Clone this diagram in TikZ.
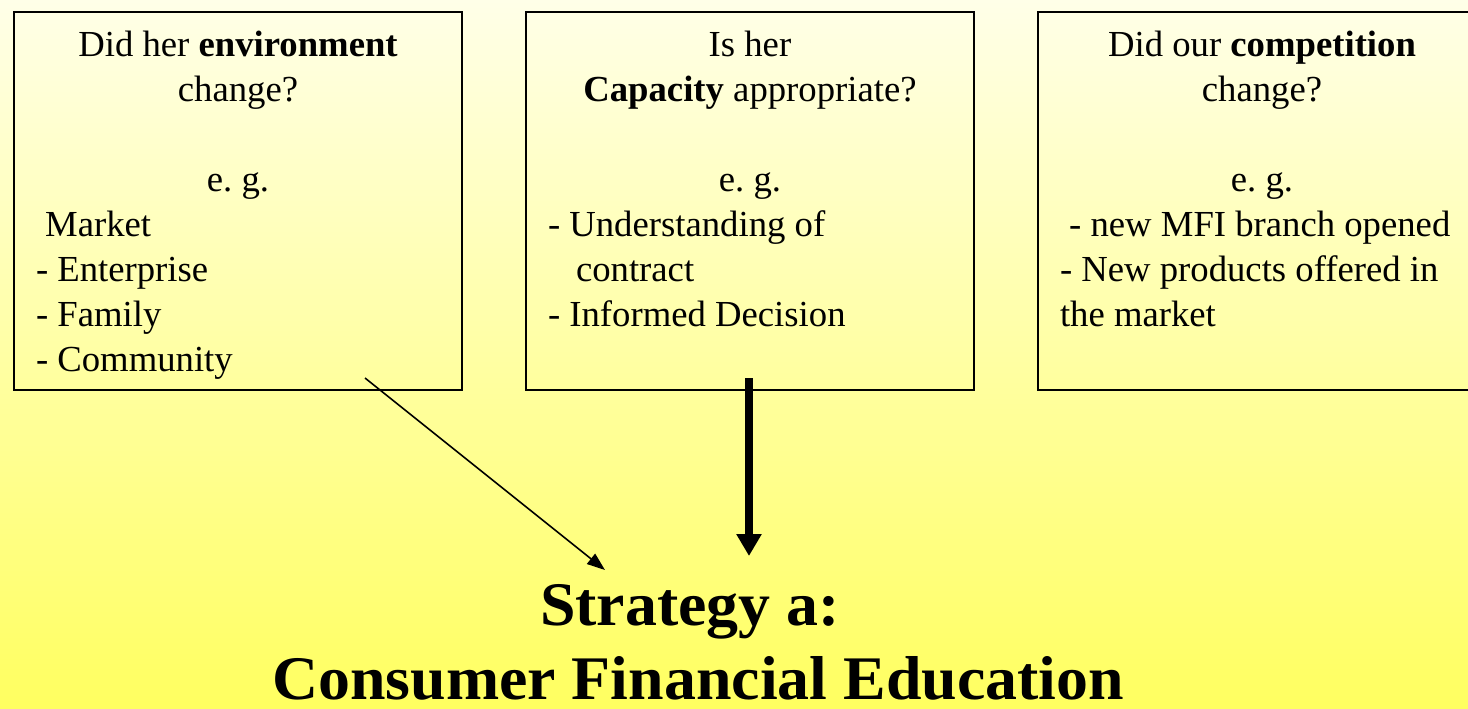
\documentclass[tikz,border=0pt]{standalone}
\usepackage{fontspec}
\setmainfont{Liberation Serif}
\newfontfamily\titlefont[FakeStretch=1.03]{Liberation Serif}
\usetikzlibrary{arrows.meta, positioning, calc}
\definecolor{slidetop}{RGB}{255,255,232}
\definecolor{slidebottom}{RGB}{255,255,96}

% text block of one question box
\newcommand{\qtext}[1]{\parbox[t][189pt][t]{202pt}{\fontsize{18.35}{22.5}\selectfont\centering\rule{0pt}{22pt}#1}}

\begin{document}
\begin{tikzpicture}[x=0.5pt, y=-0.5pt,
  qbox/.style={draw, line width=1pt, anchor=north west, inner xsep=11pt, inner ysep=0pt},
  titletext/.style={font=\titlefont\bfseries\fontsize{31}{36}\selectfont, inner sep=0pt, anchor=base},
  thinarrow/.style={line width=0.8pt, -{Triangle[length=9pt, width=6.5pt]}},
  bigarrow/.style={line width=4pt, -{Triangle[length=11pt, width=12pt]}}]
% Background
\useasboundingbox (0,0) rectangle (1468,708);
\shade[top color=slidetop, bottom color=slidebottom] (0,0) rectangle (1468,708);

% Question boxes
\node[qbox] (env) at (13,11) {\qtext{Did her \textbf{environment}\\ change?\\[22.5pt] e.\ g.\par
  \raggedright\ Market\\ - Enterprise\\ - Family\\ - Community}};
\node[qbox] (cap) at (525,11) {\qtext{Is her\\ \textbf{Capacity} appropriate?\\[22.5pt] e.\ g.\par
  \raggedright - Understanding of\\ \hspace*{14pt}contract\\ - Informed Decision}};
\node[qbox] (comp) at (1037,11) {\qtext{Did our \textbf{competition}\\ change?\\[22.5pt] e.\ g.\par
  \raggedright\ - new MFI branch opened\\ - New products offered in\\ the market}};

% Strategy
\node[titletext] (strat) at (690,625) {Strategy a:};
\node[titletext] (cfe) at (698,699) {Consumer Financial Education};

% Arrows
\coordinate (envtail) at (365,378);
\coordinate (envhead) at (605,570);
\coordinate (captail) at (749,378);
\coordinate (caphead) at (749,556);
\draw[thinarrow] (envtail) -- (envhead);
\draw[bigarrow] (captail) -- (caphead);
\end{tikzpicture}
\end{document}
